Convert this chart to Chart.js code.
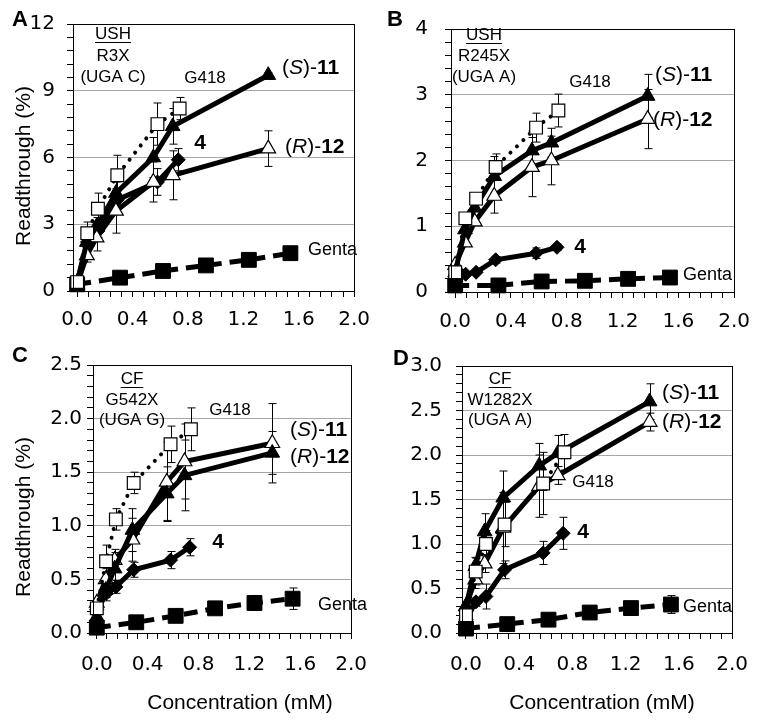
<!DOCTYPE html>
<html>
<head>
<meta charset="utf-8">
<script src="https://cdn.jsdelivr.net/npm/chart.js@4.4.0/dist/chart.umd.min.js"></script>
<style>
  html, body { margin: 0; padding: 0; background: #fff; }
  #wrap { position: relative; width: 762px; height: 724px; }
  canvas { position: absolute; }
</style>
</head>
<body>
<div id="wrap">
  <canvas id="chartA" width="381" height="340" style="left:0;top:0"></canvas>
  <canvas id="chartB" width="381" height="340" style="left:381px;top:0"></canvas>
  <canvas id="chartC" width="381" height="384" style="left:0;top:340px"></canvas>
  <canvas id="chartD" width="381" height="384" style="left:381px;top:340px"></canvas>
</div>
<script>
// concentrations (mM)
const g418Conc  = [0, 0.073, 0.15, 0.29, 0.58, 0.74];
const cmpdConc  = [0, 0.07, 0.14, 0.28, 0.55, 0.69, 1.38];   // (S)-11 and (R)-12
const c4Conc    = [0, 0.075, 0.15, 0.29, 0.58, 0.73];
const gentaConc = [0, 0.31, 0.62, 0.93, 1.24, 1.54];

const xTickLabels = ['0.0', '0.4', '0.8', '1.2', '1.6', '2.0'];

// A: USH R3X (UGA C)
const aG418  = [0.4, 2.6, 3.7, 5.2, 7.5, 8.2];
const aS11   = [0.4, 2.2, 2.9, 4.4, 6.0, 7.4, 9.7];
const aR12   = [0.3, 1.6, 2.4, 3.6, 4.9, 5.2, 6.4];
const a4     = [0.35, 2.2, 2.7, 4.1, 4.9, 5.9];
const aGenta = [0.3, 0.6, 0.9, 1.15, 1.4, 1.7];
const aG418Err  = [0, 0.5, 0.7, 0.9, 0.95, 0.5];
const aS11Err   = [0, 0.3, 0.4, 0.5, 0.9, 0.8, 0.1];
const aR12Err   = [0, 0.3, 0.6, 1.0, 0.9, 1.1, 0.8];
const a4Err     = [0, 0.2, 0.3, 0.4, 0.6, 0.5];
const aGentaErr = [0, 0, 0, 0, 0, 0.1];

// B: USH R245X (UGA A)
const bG418  = [0.3, 1.12, 1.42, 1.9, 2.5, 2.76];
const bS11   = [0.3, 0.95, 1.28, 1.76, 2.15, 2.27, 2.98];
const bR12   = [0.41, 0.75, 1.07, 1.46, 1.9, 2.0, 2.63];
const b4     = [0.15, 0.27, 0.3, 0.49, 0.59, 0.68];
const bGenta = [0.1, 0.1, 0.16, 0.17, 0.2, 0.22];
const bG418Err  = [0, 0, 0.05, 0.2, 0.22, 0.25];
const bS11Err   = [0, 0, 0.05, 0.3, 0.3, 0.22, 0.33];
const bR12Err   = [0, 0, 0.05, 0.26, 0.45, 0.37, 0.45];
const b4Err     = [0, 0, 0, 0.05, 0.08, 0.05];
const bGentaErr = [0, 0, 0, 0, 0, 0];

// C: CF G542X (UGA G)
const cG418  = [0.23, 0.67, 1.06, 1.4, 1.76, 1.9];
const cS11   = [0.15, 0.4, 0.6, 0.96, 1.3, 1.47, 1.68];
const cR12   = [0.28, 0.5, 0.68, 0.87, 1.41, 1.6, 1.77];
const c4     = [0.22, 0.37, 0.43, 0.59, 0.68, 0.8];
const cGenta = [0.05, 0.1, 0.16, 0.23, 0.28, 0.32];
const cG418Err  = [0.05, 0.15, 0.1, 0.1, 0.17, 0.2];
const cS11Err   = [0, 0.1, 0.15, 0.2, 0.25, 0.33, 0.2];
const cR12Err   = [0, 0.1, 0.1, 0.2, 0.37, 0.35, 0.37];
const c4Err     = [0, 0.04, 0.06, 0.07, 0.08, 0.08];
const cGentaErr = [0, 0, 0, 0, 0.07, 0.1];

// D: CF W1282X (UGA A)
const dG418  = [0.2, 0.69, 1.0, 1.22, 1.68, 2.03];
const dS11   = [0.3, 0.75, 1.14, 1.52, 1.88, 2.02, 2.6];
const dR12   = [0.3, 0.6, 0.78, 1.18, 1.65, 1.77, 2.37];
const d4     = [0.15, 0.35, 0.41, 0.71, 0.9, 1.12];
const dGenta = [0.05, 0.1, 0.15, 0.23, 0.28, 0.32];
const dG418Err  = [0, 0.15, 0.15, 0.25, 0.35, 0.2];
const dS11Err   = [0, 0.1, 0.2, 0.3, 0.25, 0.2, 0.2];
const dR12Err   = [0, 0.1, 0.1, 0.4, 0.35, 0.1, 0.1];
const d4Err     = [0, 0.05, 0.14, 0.1, 0.13, 0.18];
const dGentaErr = [0, 0, 0, 0, 0.05, 0.1];

const TICK_FONT = 'DejaVu Sans';
const TEXT_FONT = 'Liberation Sans';

function pts(xs, ys) {
    return xs.map(function (x, i) { return { x: x, y: ys[i] }; });
}

// error bars, drawn under the markers
const errorBars = {
    id: 'errorBars',
    beforeDatasetsDraw: function (chart) {
        const ctx = chart.ctx;
        const yScale = chart.scales.y;
        ctx.save();
        ctx.strokeStyle = '#000';
        ctx.lineWidth = 1;
        chart.data.datasets.forEach(function (ds, di) {
            if (!ds.errors) return;
            const meta = chart.getDatasetMeta(di);
            meta.data.forEach(function (el, i) {
                const e = ds.errors[i];
                if (!e) return;
                const v = ds.data[i].y;
                const top = yScale.getPixelForValue(v + e);
                const bot = yScale.getPixelForValue(Math.max(0, v - e));
                const x = Math.round(el.x) + 0.5;
                ctx.beginPath();
                ctx.moveTo(x, top); ctx.lineTo(x, bot);
                ctx.moveTo(x - 4, top); ctx.lineTo(x + 4, top);
                ctx.moveTo(x - 4, bot); ctx.lineTo(x + 4, bot);
                ctx.stroke();
            });
        });
        ctx.restore();
    }
};

// frame + panel texts
const panelText = {
    id: 'panelText',
    afterDraw: function (chart, args, opts) {
        const ctx = chart.ctx;
        const a = chart.chartArea;
        ctx.save();
        ctx.strokeStyle = '#000';
        ctx.lineWidth = 1;
        ctx.strokeRect(Math.round(a.left) + 0.5, Math.round(a.top) + 0.5,
            Math.round(a.right - a.left), Math.round(a.bottom - a.top));
        ctx.fillStyle = '#000';
        ctx.textBaseline = 'middle';
        (opts.items || []).forEach(function (it) {
            const x = it.x - opts.ox, y = it.y - opts.oy;
            const size = it.size || 17;
            if (it.rot) {
                ctx.save();
                ctx.translate(x, y);
                ctx.rotate(-Math.PI / 2);
                ctx.font = size + 'px "' + TEXT_FONT + '"';
                ctx.textAlign = 'center';
                ctx.fillText(it.t, 0, 0);
                ctx.restore();
                return;
            }
            if (it.parts) {
                let cx = x;
                ctx.textAlign = 'left';
                it.parts.forEach(function (p) {
                    ctx.font = (p[1] ? p[1] + ' ' : '') + size + 'px "' + TEXT_FONT + '"';
                    ctx.fillText(p[0], cx, y);
                    cx += ctx.measureText(p[0]).width;
                });
                return;
            }
            ctx.font = (it.w ? it.w + ' ' : '') + size + 'px "' + TEXT_FONT + '"';
            ctx.textAlign = it.align || 'center';
            ctx.fillText(it.t, x, y);
            if (it.under) {
                const w = ctx.measureText(it.t).width;
                ctx.beginPath();
                ctx.moveTo(x - w / 2, y + size * 0.5);
                ctx.lineTo(x + w / 2, y + size * 0.5);
                ctx.stroke();
            }
        });
        ctx.restore();
    }
};

function sLabel(x, y) {
    return { parts: [['('], ['S', 'italic'], [')-'], ['11', 'bold']], x: x, y: y, size: 21 };
}
function rLabel(x, y) {
    return { parts: [['('], ['R', 'italic'], [')-'], ['12', 'bold']], x: x, y: y, size: 21 };
}

function makePanel(id, p) {
    const datasets = [
        {   // G418
            data: pts(g418Conc, p.g418), errors: p.g418Err,
            borderColor: '#000', borderWidth: 4, borderDash: [0.01, 9], borderCapStyle: 'round',
            pointStyle: 'rect', pointRadius: 9, pointBackgroundColor: '#fff',
            pointBorderColor: '#000', pointBorderWidth: 1.2
        },
        {   // (S)-11
            data: pts(cmpdConc, p.s11), errors: p.s11Err,
            borderColor: '#000', borderWidth: 5,
            pointStyle: 'triangle', pointRadius: 8.5, pointBackgroundColor: '#000',
            pointBorderColor: '#000', pointBorderWidth: 1
        },
        {   // (R)-12
            data: pts(cmpdConc, p.r12), errors: p.r12Err,
            borderColor: '#000', borderWidth: 5,
            pointStyle: 'triangle', pointRadius: 8.5, pointBackgroundColor: '#fff',
            pointBorderColor: '#000', pointBorderWidth: 1.2
        },
        {   // 4
            data: pts(c4Conc, p.c4), errors: p.c4Err,
            borderColor: '#000', borderWidth: 5,
            pointStyle: 'rectRot', pointRadius: 7, pointBackgroundColor: '#000',
            pointBorderColor: '#000', pointBorderWidth: 1
        },
        {   // Genta
            data: pts(gentaConc, p.genta), errors: p.gentaErr,
            borderColor: '#000', borderWidth: 5, borderDash: [14, 8],
            pointStyle: 'rect', pointRadius: 10.5, pointBackgroundColor: '#000',
            pointBorderColor: '#000', pointBorderWidth: 1
        }
    ];
    datasets.forEach(function (d) { d.tension = 0; d.clip = false; d.fill = false; });

    const yDec = p.yMajor < 1 ? 1 : 0;
    return new Chart(document.getElementById(id), {
        type: 'line',
        data: { datasets: datasets },
        plugins: [errorBars, panelText],
        options: {
            responsive: false,
            animation: false,
            events: [],
            layout: { padding: { top: p.top, right: p.right, left: 0, bottom: 0 } },
            plugins: {
                legend: { display: false },
                tooltip: { enabled: false },
                panelText: { ox: p.ox, oy: p.oy, items: p.texts }
            },
            scales: {
                x: {
                    type: 'linear', min: -0.03, max: 2.0,
                    afterFit: function (s) { s.height = p.xH; },
                    afterBuildTicks: function (s) {
                        const t = [];
                        for (let i = 0; i <= 25; i++) t.push({ value: i * 0.08 });
                        s.ticks = t;
                    },
                    border: { color: '#000', width: 1 },
                    grid: { drawOnChartArea: false, tickLength: 6, tickColor: '#000' },
                    ticks: {
                        autoSkip: false, maxRotation: 0, minRotation: 0, padding: p.xPad,
                        color: '#000', font: { family: TICK_FONT, size: 20 },
                        callback: function (v) {
                            const k = Math.round(v / 0.08);
                            return k % 5 === 0 ? xTickLabels[k / 5] : '';
                        }
                    }
                },
                y: {
                    type: 'linear', min: 0, max: p.yMax,
                    afterFit: function (s) { s.width = p.yW; },
                    afterBuildTicks: function (s) {
                        const t = [];
                        const n = Math.round(p.yMax / p.yMinor);
                        for (let i = 0; i <= n; i++) t.push({ value: i * p.yMinor });
                        s.ticks = t;
                    },
                    border: { color: '#000', width: 1 },
                    grid: {
                        tickLength: 6, tickColor: '#000',
                        color: function (c) {
                            const v = c.tick.value;
                            const k = v / p.yMajor;
                            if (v > 0 && v < p.yMax - 1e-6 && Math.abs(k - Math.round(k)) < 1e-6) return '#a6a6a6';
                            return 'rgba(0,0,0,0)';
                        }
                    },
                    ticks: {
                        autoSkip: false, padding: p.yPad,
                        color: '#000', font: { family: TICK_FONT, size: 20 },
                        callback: function (v) {
                            const k = v / p.yMajor;
                            return Math.abs(k - Math.round(k)) < 1e-6 ? (Math.round(k) * p.yMajor).toFixed(yDec) : '';
                        }
                    }
                }
            }
        }
    });
}

makePanel('chartA', {
    ox: 0, oy: 0, top: 20, right: 18, yW: 73, xH: 49, xPad: 11, yPad: 12,
    yMax: 12, yMajor: 3, yMinor: 0.6,
    g418: aG418, s11: aS11, r12: aR12, c4: a4, genta: aGenta,
    g418Err: aG418Err, s11Err: aS11Err, r12Err: aR12Err, c4Err: a4Err, gentaErr: aGentaErr,
    texts: [
        { t: 'A', x: 12, y: 20, size: 22, w: 'bold', align: 'left' },
        { t: 'USH', x: 113, y: 34, under: true },
        { t: 'R3X', x: 113, y: 56 },
        { t: '(UGA C)', x: 113, y: 77 },
        { t: 'G418', x: 205, y: 78 },
        sLabel(282, 68), rLabel(285, 147),
        { t: '4', x: 200, y: 143, size: 21, w: 'bold' },
        { t: 'Genta', x: 308, y: 250, size: 18, align: 'left' },
        { t: 'Readthrough (%)', x: 24, y: 166, size: 21, rot: true }
    ]
});

makePanel('chartB', {
    ox: 381, oy: 0, top: 20, right: 25, yW: 70, xH: 48, xPad: 12, yPad: 17,
    yMax: 4, yMajor: 1, yMinor: 0.2,
    g418: bG418, s11: bS11, r12: bR12, c4: b4, genta: bGenta,
    g418Err: bG418Err, s11Err: bS11Err, r12Err: bR12Err, c4Err: b4Err, gentaErr: bGentaErr,
    texts: [
        { t: 'B', x: 387, y: 20, size: 22, w: 'bold', align: 'left' },
        { t: 'USH', x: 484, y: 35, under: true },
        { t: 'R245X', x: 484, y: 56 },
        { t: '(UGA A)', x: 484, y: 77 },
        { t: 'G418', x: 590, y: 82 },
        sLabel(655, 75), rLabel(653, 120),
        { t: '4', x: 580, y: 247, size: 21, w: 'bold' },
        { t: 'Genta', x: 683, y: 275, size: 18, align: 'left' }
    ]
});

makePanel('chartC', {
    ox: 0, oy: 340, top: 25, right: 11, yW: 93, xH: 91, xPad: 14, yPad: 5,
    yMax: 2.5, yMajor: 0.5, yMinor: 0.1,
    g418: cG418, s11: cS11, r12: cR12, c4: c4, genta: cGenta,
    g418Err: cG418Err, s11Err: cS11Err, r12Err: cR12Err, c4Err: c4Err, gentaErr: cGentaErr,
    texts: [
        { t: 'C', x: 12, y: 356, size: 22, w: 'bold', align: 'left' },
        { t: 'CF', x: 132, y: 379, under: true },
        { t: 'G542X', x: 132, y: 400 },
        { t: '(UGA G)', x: 132, y: 420 },
        { t: 'G418', x: 230, y: 410 },
        sLabel(290, 430), rLabel(290, 457),
        { t: '4', x: 218, y: 542, size: 21, w: 'bold' },
        { t: 'Genta', x: 318, y: 605, size: 18, align: 'left' },
        { t: 'Readthrough (%)', x: 24, y: 517, size: 21, rot: true },
        { t: 'Concentration (mM)', x: 240, y: 703, size: 21 }
    ]
});

makePanel('chartD', {
    ox: 381, oy: 340, top: 25, right: 25, yW: 81, xH: 91, xPad: 14, yPad: 14,
    yMax: 3, yMajor: 0.5, yMinor: 0.1,
    g418: dG418, s11: dS11, r12: dR12, c4: d4, genta: dGenta,
    g418Err: dG418Err, s11Err: dS11Err, r12Err: dR12Err, c4Err: d4Err, gentaErr: dGentaErr,
    texts: [
        { t: 'D', x: 393, y: 359, size: 22, w: 'bold', align: 'left' },
        { t: 'CF', x: 500, y: 379, under: true },
        { t: 'W1282X', x: 500, y: 400 },
        { t: '(UGA A)', x: 500, y: 420 },
        { t: 'G418', x: 593, y: 482 },
        sLabel(662, 393), rLabel(662, 422),
        { t: '4', x: 583, y: 532, size: 21, w: 'bold' },
        { t: 'Genta', x: 683, y: 607, size: 18, align: 'left' },
        { t: 'Concentration (mM)', x: 602, y: 703, size: 21 }
    ]
});
</script>
</body>
</html>
